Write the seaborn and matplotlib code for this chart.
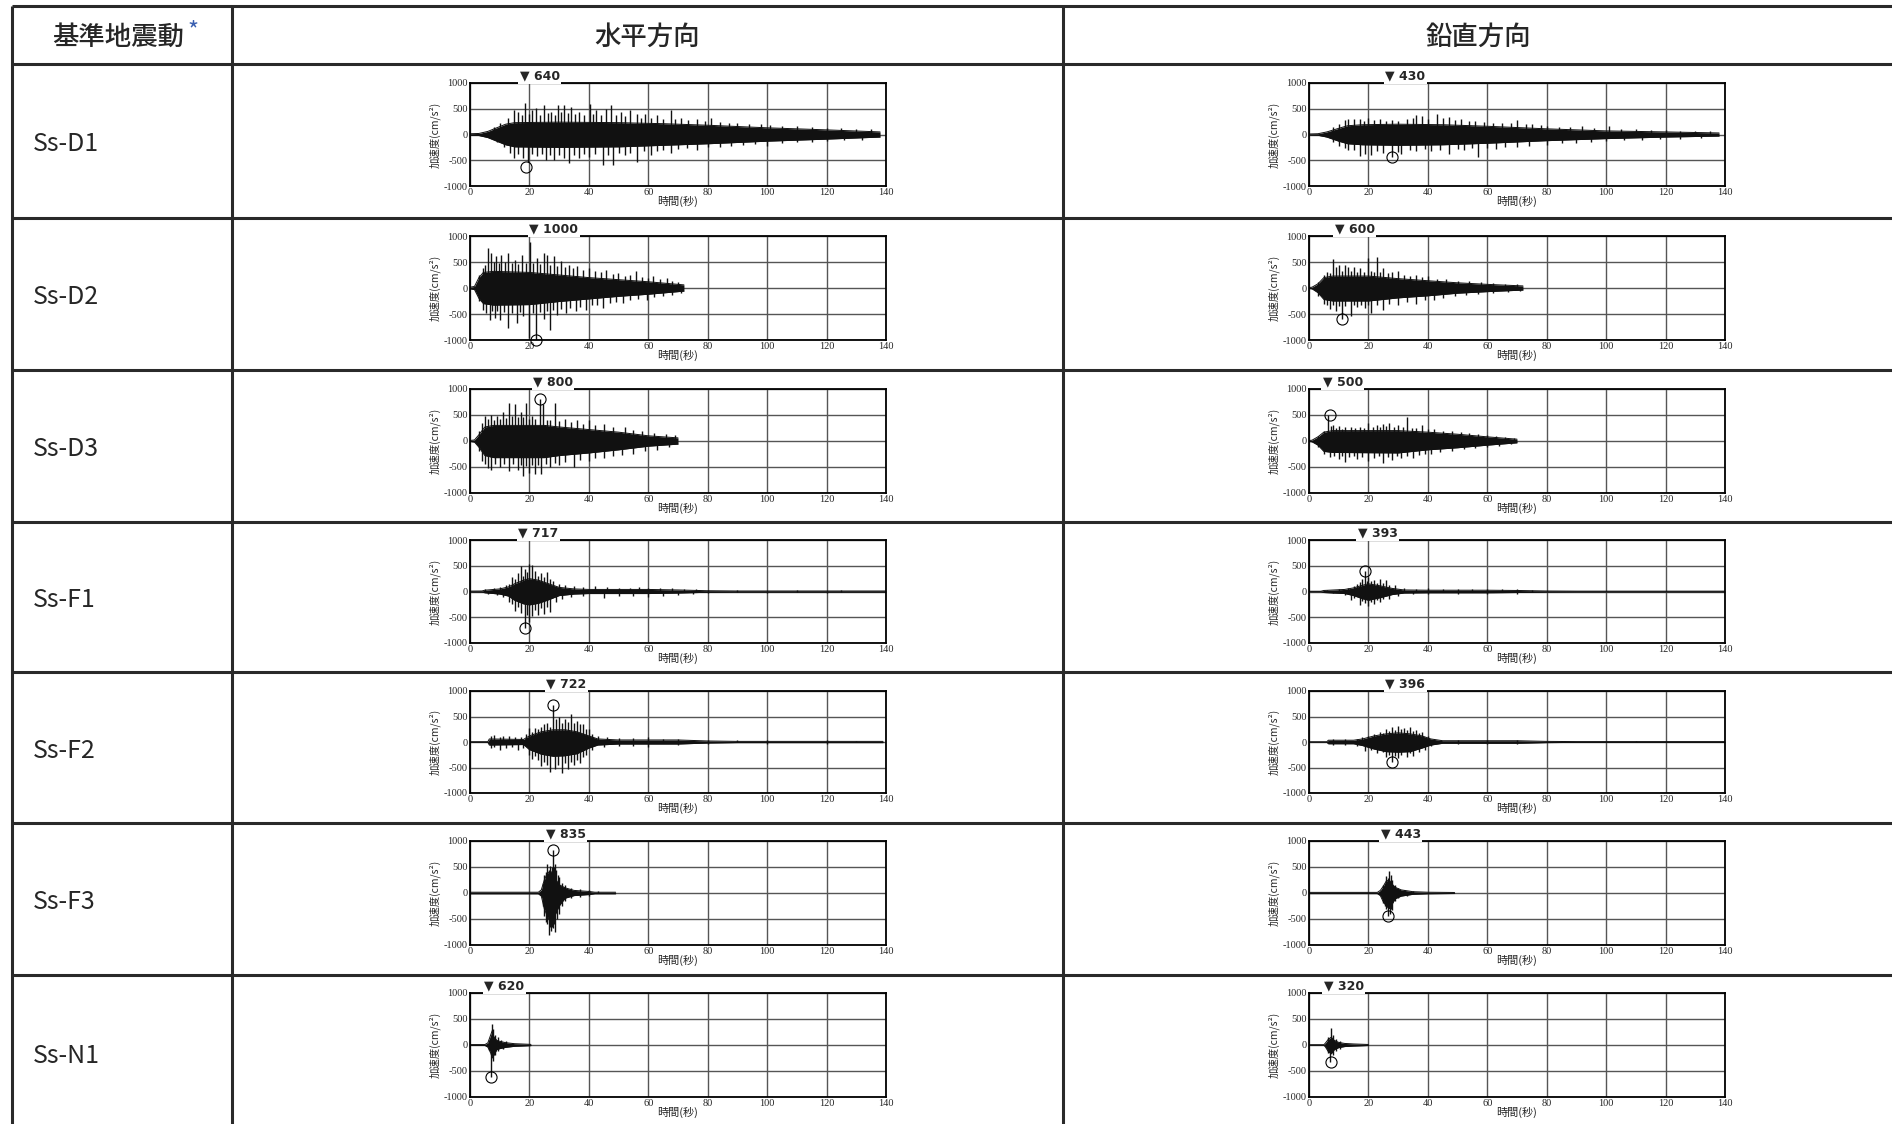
import matplotlib
matplotlib.use("Agg")
import matplotlib.pyplot as plt
import seaborn as sns
import pandas as pd

# ---- table text ----
row_names = ["Ss-D1", "Ss-D2", "Ss-D3", "Ss-F1", "Ss-F2", "Ss-F3", "Ss-N1"]
col_titles = ["水平方向", "鉛直方向"]
x_ticks = [0, 20, 40, 60, 80, 100, 120, 140]
y_ticks = [-1000, -500, 0, 500, 1000]
y_tick_labels = ["-1000", "-500", "0", "500", "1000"]

# ---- waveforms: dense band (core) + single peaks (spikes) ----
# 水平 Ss-D1
h_d1_t = [0, 3, 6, 9, 12, 15, 30, 50, 65, 80, 100, 120, 138]
h_d1_hi = [15, 20, 60, 130, 200, 230, 240, 230, 210, 180, 130, 90, 50]
h_d1_lo = [-15, -20, -60, -130, -200, -240, -250, -240, -210, -180, -130, -90, -50]
h_d1_spikes = [(8, 150), (10, 220), (12.7, 320), (14.9, 470), (16, 435), (17.5, 380), (18.6, 615), (20, 400),
               (21, 470), (22.2, 510), (23.5, 380), (25, 565), (26.3, 420), (27.4, 435), (28.5, 380),
               (29.5, 565), (30.6, 430), (31.7, 565), (33, 420), (34, 530), (35.3, 400), (36.7, 435),
               (38.5, 380), (40.4, 600), (41.3, 400), (42.3, 470), (44, 380), (45.7, 500), (47.4, 565),
               (49, 380), (50.7, 435), (52.3, 360), (54, 470), (56.3, 405), (57.7, 330), (59, 405),
               (61, 320), (63, 370), (65, 300), (67.5, 470), (69, 300), (71, 320), (73.5, 280), (76.5, 310),
               (79, 260), (81, 320), (84, 240), (87, 230), (90, 220), (94, 200), (98, 210), (101, 190),
               (105, 170), (110, 160), (115, 140), (120, 130), (125, 120), (130, 110), (135, 100),
               (9, -150), (11.5, -240), (13.3, -350), (14.9, -450), (16.3, -380), (17.7, -460), (19.4, -525),
               (21, -380), (22.7, -420), (24.2, -380), (25.5, -495), (27, -400), (28.3, -495), (30, -390),
               (31.7, -460), (33.4, -560), (35, -400), (36.7, -460), (38.5, -380), (40, -440), (42, -380),
               (44.6, -600), (46.3, -400), (48, -600), (50, -360), (52, -400), (54, -350), (56.3, -525),
               (58.5, -330), (60.8, -400), (63, -320), (65, -300), (67.5, -365), (70, -290), (73, -270),
               (76.5, -300), (80, -250), (84, -250), (88, -220), (92, -200), (96, -190), (100, -220),
               (105, -170), (110, -150), (115, -140), (120, -130), (126, -110), (132, -100)]
h_d1_peak = (19, -640, "640")

# 鉛直 Ss-D1
v_d1_t = [0, 3, 6, 10, 13, 18, 30, 45, 60, 80, 100, 120, 138]
v_d1_hi = [10, 15, 50, 120, 170, 190, 200, 190, 160, 110, 70, 50, 30]
v_d1_lo = [-10, -15, -50, -130, -180, -200, -210, -200, -170, -120, -80, -50, -30]
v_d1_spikes = [(8, 150), (10, 200), (12, 280), (13, 300), (15, 300), (17, 310), (18.5, 270), (20, 330),
               (22, 280), (24, 300), (26, 260), (28, 290), (30, 270), (33, 300), (35, 330), (36, 380),
               (38, 350), (40, 300), (43, 390), (45, 320), (47, 340), (49, 280), (51, 300), (54, 270),
               (56, 260), (59, 240), (62, 230), (65, 220), (68, 230), (70, 280), (73, 200), (75, 200),
               (78, 180), (80, 170), (84, 150), (88, 140), (92, 160), (96, 130), (101, 160), (105, 110),
               (110, 100), (115, 90), (120, 80), (125, 70), (130, 70), (135, 60),
               (8, -150), (10, -220), (12, -260), (13, -300), (15, -300), (17, -420), (19, -380), (21, -400),
               (23, -330), (25, -350), (28, -430), (30, -340), (31, -380), (34, -300), (36, -330), (39, -290),
               (41, -320), (44, -300), (47, -380), (50, -280), (52, -300), (55, -270), (57, -430), (60, -260),
               (63, -290), (66, -240), (70, -250), (74, -220), (80, -200), (85, -170), (90, -160), (95, -140),
               (100, -130), (106, -110), (112, -100), (118, -90), (125, -80), (132, -70)]
v_d1_peak = (28, -430, "430")

# 水平 Ss-D2
h_d2_t = [0, 1.5, 3, 4.5, 8, 20, 30, 40, 50, 60, 72]
h_d2_hi = [15, 30, 200, 300, 320, 300, 250, 200, 160, 120, 60]
h_d2_lo = [-15, -30, -200, -300, -330, -320, -260, -210, -160, -120, -60]
h_d2_spikes = [(3, 250), (4.3, 380), (5, 450), (6, 770), (7.2, 673), (8, 500), (8.9, 610), (9.7, 480),
               (10.6, 640), (11.7, 500), (12.8, 673), (14, 480), (15.1, 545), (16.2, 470), (17.4, 640),
               (18.8, 480), (20.2, 880), (21.3, 480), (22.5, 577), (23.6, 470), (24.8, 673), (25.9, 640),
               (27, 450), (28.2, 610), (29.3, 430), (30.5, 513), (32, 400), (33.3, 450), (34.7, 380),
               (36.1, 417), (38, 340), (40.1, 385), (42, 320), (44, 300), (45.8, 353), (48, 270),
               (49.8, 290), (52, 240), (54, 250), (56, 320), (58, 210), (60, 200), (61.7, 225), (64, 170),
               (66.3, 192), (68, 140), (70, 120),
               (3, -250), (4.3, -417), (5.5, -480), (6.6, -610), (7.5, -450), (8.3, -577), (9.2, -450),
               (10, -610), (11.3, -470), (12.8, -770), (14.2, -480), (15.7, -673), (16.8, -460), (18, -545),
               (20, -960), (21.2, -480), (22.3, -1000), (23.5, -470), (24.8, -600), (25.8, -450),
               (26.8, -800), (28, -430), (29.3, -513), (30.7, -400), (32.2, -480), (33.8, -380),
               (35.6, -450), (37, -360), (39, -417), (41, -330), (42.8, -320), (44.7, -385), (47, -280),
               (49, -270), (51.5, -290), (54, -230), (56.5, -210), (59.4, -225), (62, -180), (65, -160),
               (68, -130), (71, -100)]
h_d2_peak = (22.3, -1000, "1000")

# 鉛直 Ss-D2
v_d2_t = [0, 1, 3, 5, 8, 20, 30, 40, 50, 60, 72]
v_d2_hi = [10, 15, 80, 200, 230, 230, 180, 140, 100, 70, 40]
v_d2_lo = [-10, -15, -90, -220, -250, -250, -190, -150, -100, -70, -40]
v_d2_spikes = [(3, 120), (5, 250), (6, 300), (7, 280), (8, 560), (9, 400), (10, 450), (11, 320), (12, 450),
               (13, 400), (14, 330), (15, 400), (16, 300), (17, 380), (18.5, 300), (20, 580), (21, 330),
               (22, 300), (23, 590), (24, 300), (25, 380), (26.5, 280), (28, 300), (30, 320), (32, 250),
               (34, 240), (36, 250), (38, 220), (40, 230), (43, 180), (46, 170), (50, 140), (54, 130),
               (58, 110), (62, 90), (66, 80), (70, 70),
               (3, -150), (5, -300), (6, -330), (7, -400), (8, -330), (9, -450), (10, -350), (11, -590),
               (12, -350), (14, -540), (15, -330), (16, -360), (17.5, -320), (19, -380), (20, -330),
               (21, -490), (23, -330), (25, -430), (27, -300), (30, -320), (33, -270), (36, -300), (39, -240),
               (42, -230), (45, -190), (49, -160), (53, -140), (57, -120), (62, -100), (67, -80), (71, -60)]
v_d2_peak = (11, -600, "600")

# 水平 Ss-D3
h_d3_t = [0, 1.5, 3, 5, 8, 25, 30, 40, 50, 60, 70]
h_d3_hi = [10, 20, 120, 270, 300, 300, 270, 220, 170, 100, 60]
h_d3_lo = [-10, -20, -120, -280, -320, -320, -280, -230, -170, -100, -60]
h_d3_spikes = [(3, 200), (4, 350), (5, 480), (6, 420), (7, 500), (8, 400), (9, 480), (10, 420), (11, 560),
               (12, 450), (13, 740), (14, 480), (15, 720), (16, 460), (17, 550), (18, 460), (19, 730),
               (20, 430), (21, 480), (22, 420), (23.5, 800), (24.7, 720), (26, 400), (27, 400), (28.5, 740),
               (30, 380), (32, 420), (34, 360), (36, 400), (38, 330), (40, 400), (42, 300), (45, 330),
               (48, 260), (52, 260), (55, 220), (58, 190), (62, 160), (66, 140), (69, 110),
               (3, -200), (4, -380), (5, -450), (6, -520), (7, -560), (8.5, -450), (10, -500), (11.5, -440),
               (13, -570), (14.5, -450), (16, -560), (17, -470), (18, -680), (19, -480), (20, -620),
               (21, -470), (22, -630), (23, -470), (24, -640), (25.5, -450), (27, -500), (28.5, -420),
               (30, -470), (32, -400), (35, -500), (37, -360), (40, -380), (42, -320), (45, -330), (48, -280),
               (51, -260), (55, -250), (59, -200), (63, -170), (67, -120)]
h_d3_peak = (23.5, 800, "800")

# 鉛直 Ss-D3
v_d3_t = [0, 1, 3, 5, 8, 30, 40, 50, 60, 70]
v_d3_hi = [10, 15, 80, 170, 200, 200, 170, 130, 80, 35]
v_d3_lo = [-10, -15, -80, -200, -220, -230, -170, -130, -80, -35]
v_d3_spikes = [(3, 100), (5, 200), (6.5, 500), (7.5, 280), (8, 300), (9, 250), (10, 280), (11, 240),
               (12, 260), (14, 260), (15.5, 250), (17, 270), (18.5, 250), (20, 350), (21.5, 260), (23, 300),
               (24, 260), (25, 330), (26, 280), (27, 350), (28.5, 270), (30, 300), (31.5, 260), (33, 460),
               (34.5, 250), (36, 250), (38, 300), (40, 240), (42, 240), (45, 200), (48, 200), (51, 170),
               (54, 150), (57, 140), (60, 120), (63, 100), (66, 80), (69, 60),
               (3, -120), (5, -250), (7, -300), (8.5, -280), (10, -350), (11, -280), (12, -400), (13.5, -300),
               (15, -280), (16, -350), (18, -300), (20, -380), (22, -330), (23.5, -290), (25, -420),
               (26.5, -300), (28, -360), (29.5, -290), (31, -330), (33, -280), (35, -320), (37, -260),
               (39, -250), (41, -250), (44, -220), (48, -200), (52, -160), (56, -140), (60, -110), (64, -90),
               (68, -60)]
v_d3_peak = (7, 500, "500")

# 水平 Ss-F1
h_f1_t = [0, 4, 5, 10, 13, 15, 18, 20, 23, 26, 30, 35, 40, 60, 70, 80, 90, 140]
h_f1_hi = [8, 10, 25, 50, 90, 150, 220, 250, 220, 160, 80, 50, 40, 40, 30, 15, 10, 10]
h_f1_lo = [-8, -10, -25, -50, -90, -170, -240, -260, -230, -170, -80, -50, -40, -40, -30, -15, -10, -10]
h_f1_spikes = [(5, 40), (8, 70), (10, 80), (12, 120), (13, 150), (14, 280), (15, 250), (16, 350), (17, 490),
               (18, 300), (18.5, 430), (19.3, 380), (20, 530), (21, 520), (22, 400), (23, 300), (24, 350),
               (25, 280), (26, 370), (27, 250), (28, 200), (30, 150), (32, 120), (35, 100), (38, 80),
               (42, 100), (46, 80), (50, 70), (54, 70), (57, 80), (60, 70), (64, 60), (68, 60), (72, 50),
               (76, 40), (80, 30), (90, 20), (110, 20), (125, 20),
               (6, -40), (9, -70), (11, -100), (13, -200), (14, -250), (15, -370), (16, -300), (17, -420),
               (18.5, -717), (19.3, -450), (20, -600), (21, -480), (22, -350), (23, -450), (24, -330),
               (25, -430), (26, -300), (27, -400), (29, -200), (31, -150), (34, -100), (38, -80), (45, -120),
               (50, -90), (55, -80), (60, -100), (65, -80), (70, -60), (75, -50), (80, -30), (100, -20),
               (120, -20)]
h_f1_peak = (18.5, -717, "717")

# 鉛直 Ss-F1
v_f1_t = [0, 4, 5, 12, 15, 18, 20, 24, 28, 32, 40, 60, 70, 80, 90, 140]
v_f1_hi = [5, 5, 20, 40, 70, 120, 150, 110, 60, 30, 25, 25, 20, 10, 7, 7]
v_f1_lo = [-5, -5, -20, -40, -80, -140, -170, -120, -60, -30, -25, -25, -20, -10, -7, -7]
v_f1_spikes = [(6, 25), (10, 40), (13, 70), (15, 100), (16, 150), (17, 180), (18, 250), (18.7, 393),
               (19.5, 200), (20, 280), (21, 200), (22, 230), (23, 170), (24, 250), (25, 160), (26, 230),
               (27, 130), (29, 120), (32, 60), (36, 50), (40, 60), (45, 50), (50, 50), (55, 45), (60, 50),
               (65, 40), (70, 40), (75, 30),
               (8, -30), (12, -60), (14, -160), (15, -120), (17, -260), (18, -180), (19, -230), (20, -280),
               (21, -200), (22, -240), (23, -160), (24, -200), (25, -140), (27, -150), (30, -80), (35, -50),
               (40, -50), (50, -45), (60, -50), (70, -40)]
v_f1_peak = (18.7, 393, "393")

# 水平 Ss-F2
h_f2_t = [0, 6, 6.5, 18, 20, 24, 28, 32, 36, 40, 43, 50, 70, 80, 90, 139]
h_f2_hi = [5, 5, 60, 50, 120, 200, 240, 240, 200, 120, 60, 40, 40, 20, 12, 12]
h_f2_lo = [-5, -5, -60, -50, -150, -240, -280, -270, -230, -120, -60, -40, -40, -20, -12, -12]
h_f2_spikes = [(7, 120), (8, 130), (10, 100), (11, 110), (13, 110), (15, 100), (17, 90), (19, 150), (20, 270),
               (21, 200), (22, 280), (23, 250), (24, 300), (25, 360), (26, 380), (27, 300), (28, 722),
               (29, 450), (30, 500), (31, 380), (32, 460), (33, 400), (34, 540), (35, 380), (36, 420),
               (37, 350), (38, 350), (39, 250), (40, 250), (41, 150), (43, 120), (46, 90), (50, 80),
               (55, 70), (60, 90), (65, 60), (70, 50), (80, 40), (90, 30), (100, 30), (120, 30), (130, 25),
               (7, -120), (8, -100), (10, -150), (12, -110), (14, -100), (16, -150), (18, -120), (20, -250),
               (21, -330), (22, -280), (23, -350), (24, -470), (25, -400), (26, -450), (27, -590),
               (28.5, -520), (29.5, -450), (31, -600), (32, -420), (33, -530), (34, -400), (35, -450),
               (36, -350), (37, -420), (38, -300), (39, -250), (41, -150), (45, -100), (50, -80), (55, -70),
               (60, -90), (70, -50), (80, -40), (100, -30), (120, -30)]
h_f2_peak = (28, 722, "722")

# 鉛直 Ss-F2
v_f2_t = [0, 6, 6.5, 15, 18, 22, 26, 30, 34, 38, 41, 45, 70, 80, 90, 140]
v_f2_hi = [3, 3, 35, 35, 60, 120, 160, 180, 160, 120, 60, 25, 25, 12, 8, 8]
v_f2_lo = [-3, -3, -35, -35, -70, -140, -190, -200, -190, -120, -60, -25, -25, -12, -8, -8]
v_f2_spikes = [(8, 50), (12, 50), (16, 60), (18, 100), (20, 120), (22, 150), (24, 200), (25, 180), (26, 250),
               (27, 220), (28, 300), (29, 230), (30, 310), (31, 250), (32, 280), (33, 230), (34, 300),
               (35, 220), (36, 230), (37, 180), (38, 200), (40, 120), (42, 60), (50, 40), (60, 40), (70, 35),
               (85, 20), (110, 15),
               (8, -50), (12, -50), (16, -70), (19, -180), (21, -150), (23, -220), (25, -200), (26, -300),
               (27, -250), (28, -396), (29, -280), (30, -320), (31, -250), (33, -300), (34, -220), (35, -280),
               (37, -200), (39, -150), (41, -70), (50, -40), (60, -40), (70, -35)]
v_f2_peak = (28, -396, "396")

# 水平 Ss-F3
h_f3_t = [0, 23, 24, 25, 26, 27, 28, 29, 30, 32, 35, 40, 42, 49]
h_f3_hi = [15, 15, 60, 250, 380, 420, 380, 250, 160, 100, 50, 30, 15, 15]
h_f3_lo = [-15, -15, -60, -300, -450, -550, -500, -380, -250, -100, -50, -30, -15, -15]
h_f3_spikes = [(24.5, 200), (25, 350), (25.5, 400), (26, 560), (26.5, 450), (27, 520), (27.5, 500),
               (27.8, 835), (28.2, 500), (28.5, 560), (29, 450), (29.5, 350), (30, 300), (31, 200), (32, 150),
               (34, 100), (37, 80), (40, 60), (43, 40),
               (24.5, -250), (25, -450), (25.5, -550), (26, -600), (26.5, -800), (27, -650), (27.3, -730),
               (27.7, -650), (28, -680), (28.4, -600), (28.7, -750), (29.3, -500), (30, -400), (31, -250),
               (32, -150), (34, -100), (37, -80), (40, -60)]
h_f3_peak = (27.8, 835, "835")

# 鉛直 Ss-F3
v_f3_t = [0, 23, 24, 25, 26, 27, 28, 29, 31, 35, 40, 49]
v_f3_hi = [12, 12, 50, 130, 230, 250, 170, 110, 60, 25, 15, 10]
v_f3_lo = [-12, -12, -50, -170, -250, -300, -210, -110, -60, -25, -15, -10]
v_f3_spikes = [(25, 150), (25.5, 200), (26, 330), (26.5, 280), (27, 420), (27.5, 350), (28, 250), (29, 150),
               (30, 100), (32, 60), (35, 40),
               (25, -200), (25.5, -250), (26, -300), (26.5, -443), (27.2, -400), (27.6, -300), (28, -330),
               (29, -150), (30, -100), (33, -50)]
v_f3_peak = (26.5, -443, "443")

# 水平 Ss-N1
h_n1_t = [0, 5, 6, 7, 7.5, 8, 9, 10, 12, 15, 20.5]
h_n1_hi = [8, 8, 40, 200, 280, 160, 90, 70, 45, 25, 12]
h_n1_lo = [-8, -8, -40, -160, -250, -200, -90, -70, -45, -25, -12]
h_n1_spikes = [(6.5, 100), (7.3, 400), (7.8, 300), (8.5, 200), (9.3, 150), (10.5, 100), (12, 70),
               (6.5, -100), (7.2, -620), (7.8, -300), (8.5, -200), (9.5, -120), (11, -80)]
h_n1_peak = (7.2, -620, "620")

# 鉛直 Ss-N1
v_n1_t = [0, 5, 5.5, 6.5, 7.5, 8.5, 10, 12, 15, 20]
v_n1_hi = [5, 5, 35, 110, 150, 90, 50, 30, 20, 10]
v_n1_lo = [-5, -5, -35, -130, -170, -90, -50, -30, -20, -10]
v_n1_spikes = [(6.5, 150), (7.3, 320), (8, 200), (9, 120), (10.5, 80),
               (6.5, -150), (7.2, -320), (8, -200), (9, -120), (10.5, -70)]
v_n1_peak = (7.3, -320, "320")

panels = [
    [(h_d1_t, h_d1_hi, h_d1_lo, h_d1_spikes, h_d1_peak), (v_d1_t, v_d1_hi, v_d1_lo, v_d1_spikes, v_d1_peak)],
    [(h_d2_t, h_d2_hi, h_d2_lo, h_d2_spikes, h_d2_peak), (v_d2_t, v_d2_hi, v_d2_lo, v_d2_spikes, v_d2_peak)],
    [(h_d3_t, h_d3_hi, h_d3_lo, h_d3_spikes, h_d3_peak), (v_d3_t, v_d3_hi, v_d3_lo, v_d3_spikes, v_d3_peak)],
    [(h_f1_t, h_f1_hi, h_f1_lo, h_f1_spikes, h_f1_peak), (v_f1_t, v_f1_hi, v_f1_lo, v_f1_spikes, v_f1_peak)],
    [(h_f2_t, h_f2_hi, h_f2_lo, h_f2_spikes, h_f2_peak), (v_f2_t, v_f2_hi, v_f2_lo, v_f2_spikes, v_f2_peak)],
    [(h_f3_t, h_f3_hi, h_f3_lo, h_f3_spikes, h_f3_peak), (v_f3_t, v_f3_hi, v_f3_lo, v_f3_spikes, v_f3_peak)],
    [(h_n1_t, h_n1_hi, h_n1_lo, h_n1_spikes, h_n1_peak), (v_n1_t, v_n1_hi, v_n1_lo, v_n1_spikes, v_n1_peak)],
]

# ---- layout (pixels) ----
W, H = 1892, 1124
sns.set_style("white")
plt.rcParams['font.family'] = ['Noto Sans CJK JP', 'DejaVu Sans']

fig = plt.figure(figsize=(W / 100, H / 100), dpi=100)
bg = fig.add_axes([0, 0, 1, 1])
bg.set_xlim(0, W)
bg.set_ylim(H, 0)
bg.axis("off")

line_col = "#2a2a2a"
row_lines = [6, 64, 218, 370, 522, 672, 823, 975]
for y in row_lines:
    bg.plot([12, W], [y, y], color=line_col, lw=2.2, solid_capstyle="butt")
for x in [12, 232, 1063]:
    bg.plot([x, x], [6, H], color=line_col, lw=2.2, solid_capstyle="butt")

# header
bg.text(118, 37, "基準地震動", ha="center", va="center", fontsize=19, fontweight="medium")
bg.text(187, 31, "*", ha="left", va="center", fontsize=17, color="#3a5fb0")
bg.text(647, 37, col_titles[0], ha="center", va="center", fontsize=19, fontweight="medium")
bg.text(1478, 37, col_titles[1], ha="center", va="center", fontsize=19, fontweight="medium")

row_bottoms = row_lines[2:] + [1131]
for i, name in enumerate(row_names):
    yc = (row_lines[i + 1] + row_bottoms[i]) / 2 + 3
    bg.text(33, yc, name, ha="left", va="center", fontsize=18)

axes_rows = [(83, 186), (236, 340), (389, 493), (540, 643), (691, 793), (841, 945), (993, 1097)]
axes_cols = [(470, 886), (1309, 1725)]

ink = "#111111"
for r, (top, bot) in enumerate(axes_rows):
    for c, (left, right) in enumerate(axes_cols):
        t, hi, lo, spikes, peak = panels[r][c]
        ax = fig.add_axes([left / W, 1 - bot / H, (right - left) / W, (bot - top) / H])
        env = pd.DataFrame({"t": t + t, "a": hi + lo, "side": ["hi"] * len(t) + ["lo"] * len(t)})
        ax.fill_between(t, lo, hi, color=ink, lw=0)
        sns.lineplot(data=env, x="t", y="a", units="side", estimator=None, color=ink, lw=0.7, ax=ax)
        st = [s[0] for s in spikes]
        sv = [s[1] for s in spikes]
        ax.vlines(st, 0, sv, color=ink, lw=1.0)
        ax.plot([peak[0]], [peak[1]], "o", mfc="none", mec="black", ms=8, mew=0.8, clip_on=False, zorder=5)
        ax.annotate("▼ " + peak[2], xy=(peak[0], 1.0), xycoords=("data", "axes fraction"),
                    xytext=(-5, 0.5), textcoords="offset points", ha="left", va="bottom",
                    fontsize=9, fontweight="bold", family=["DejaVu Sans"],
                    bbox=dict(fc="white", ec="none", pad=1.0), zorder=6)
        ax.set_xlim(0, 140)
        ax.set_ylim(-1000, 1000)
        ax.set_xticks(x_ticks)
        ax.set_yticks(y_ticks)
        ax.set_yticklabels(y_tick_labels)
        ax.grid(True, color="#555555", lw=1.0)
        ax.set_axisbelow(True)
        for sp in ax.spines.values():
            sp.set_color("black")
            sp.set_linewidth(1.3)
        ax.tick_params(length=0, pad=1.5, labelsize=7.5, labelfontfamily="Liberation Serif")
        ax.set_xlabel("時間(秒)", fontsize=8, labelpad=-1)
        ax.set_ylabel("加速度(cm/s²)", fontsize=7.5, labelpad=2)

fig.savefig("out.png", dpi=100)
